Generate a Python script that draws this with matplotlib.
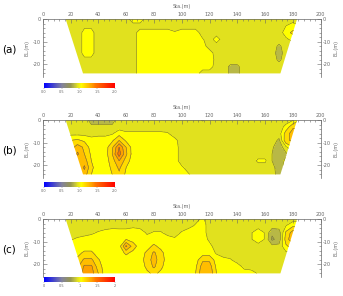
import numpy as np
import matplotlib
matplotlib.use("Agg")
import matplotlib.pyplot as plt
from matplotlib.colors import LinearSegmentedColormap, Normalize
from matplotlib.patches import Polygon
from matplotlib.cm import ScalarMappable
from matplotlib.ticker import MultipleLocator

plt.rcParams["font.family"] = ["DejaVu Sans"]
plt.rcParams["axes.unicode_minus"] = False

# grid of the section: station (m) and elevation (m)
sta = np.arange(15, 186, 5)
elev = np.array([0, -3, -6, -9, -12, -15, -18, -21, -24])

# survey outline (trapezoid)
outline_sta = [16.5, 183, 171, 29]
outline_el = [0, 0, -24, -24]

# ratio values x100, one row per elevation, one column per station
ratio_a = [
    [95, 95, 95, 95, 95, 95, 95, 95, 95, 95, 107, 107, 95, 95, 95, 95, 95, 95, 95, 95, 95, 95, 95, 95, 95, 95, 95, 95, 95, 95, 95, 95, 95, 97, 97],
    [95, 95, 95, 98, 98, 95, 95, 95, 95, 95, 95, 95, 95, 95, 95, 95, 95, 95, 95, 95, 95, 95, 95, 95, 95, 95, 95, 95, 95, 95, 95, 95, 100, 103, 100],
    [95, 95, 95, 103, 103, 95, 95, 95, 95, 95, 95, 105, 105, 105, 105, 105, 101, 105, 105, 105, 95, 95, 95, 95, 95, 95, 95, 95, 95, 95, 95, 95, 105, 113, 113],
    [95, 95, 95, 103, 103, 95, 95, 95, 95, 95, 95, 105, 105, 105, 105, 105, 105, 105, 105, 105, 101, 95, 105, 95, 95, 95, 95, 95, 95, 95, 95, 95, 98, 103, 100],
    [95, 95, 95, 103, 103, 95, 95, 95, 95, 95, 95, 105, 105, 105, 105, 105, 105, 105, 105, 105, 105, 95, 95, 95, 95, 95, 95, 95, 95, 95, 95, 88, 95, 95, 95],
    [95, 95, 95, 103, 103, 95, 95, 95, 95, 95, 95, 105, 105, 105, 105, 105, 105, 105, 105, 105, 105, 105, 95, 95, 95, 95, 95, 95, 95, 95, 95, 85, 95, 95, 95],
    [95, 95, 95, 98, 98, 95, 95, 95, 95, 95, 95, 105, 105, 105, 105, 105, 105, 105, 105, 105, 105, 105, 97, 95, 95, 95, 95, 95, 95, 95, 95, 88, 95, 95, 95],
    [95, 95, 95, 95, 95, 95, 95, 95, 95, 95, 95, 105, 105, 105, 105, 105, 105, 105, 105, 105, 105, 105, 95, 95, 88, 88, 95, 95, 95, 95, 95, 95, 95, 95, 95],
    [95, 95, 95, 95, 95, 95, 95, 95, 95, 95, 95, 105, 105, 105, 105, 105, 105, 105, 105, 105, 95, 95, 95, 95, 88, 88, 95, 95, 95, 95, 95, 95, 95, 95, 95],
]

ratio_b = [
    [95, 95, 95, 95, 86, 86, 86, 86, 95, 95, 95, 95, 95, 95, 95, 95, 95, 95, 95, 95, 89, 95, 95, 95, 95, 95, 95, 95, 95, 95, 95, 95, 95, 99, 110],
    [95, 95, 95, 95, 92, 92, 92, 92, 95, 95, 95, 95, 95, 95, 95, 95, 95, 95, 95, 95, 95, 95, 95, 95, 95, 95, 95, 95, 95, 95, 95, 95, 103, 118, 120],
    [95, 97, 97, 97, 97, 97, 97, 99, 106, 102, 102, 102, 102, 102, 102, 101, 95, 95, 95, 95, 95, 95, 95, 95, 95, 95, 95, 95, 95, 95, 95, 95, 115, 125, 125],
    [105, 110, 112, 108, 103, 105, 105, 108, 120, 108, 105, 105, 105, 105, 105, 105, 103, 95, 95, 95, 95, 95, 95, 95, 95, 95, 95, 95, 95, 95, 95, 88, 118, 122, 120],
    [108, 115, 125, 118, 105, 105, 105, 118, 140, 120, 105, 105, 105, 105, 105, 105, 105, 95, 95, 95, 95, 95, 95, 95, 95, 95, 95, 95, 95, 95, 92, 82, 98, 110, 105],
    [108, 115, 132, 120, 108, 105, 105, 120, 145, 122, 105, 105, 105, 105, 105, 105, 105, 95, 95, 95, 95, 95, 95, 95, 95, 95, 95, 95, 95, 95, 90, 80, 88, 95, 95],
    [105, 112, 120, 125, 110, 105, 105, 115, 130, 115, 105, 105, 105, 105, 105, 105, 105, 95, 95, 95, 95, 95, 95, 95, 95, 95, 95, 95, 102, 102, 90, 85, 92, 95, 95],
    [105, 110, 118, 132, 112, 105, 105, 112, 122, 110, 105, 105, 105, 105, 105, 105, 105, 102, 95, 95, 95, 95, 95, 95, 95, 95, 95, 95, 95, 95, 92, 87, 92, 95, 95],
    [105, 105, 115, 125, 110, 105, 105, 110, 118, 108, 105, 105, 105, 105, 105, 105, 105, 105, 101, 95, 95, 95, 95, 95, 95, 95, 95, 95, 95, 95, 92, 88, 92, 95, 95],
]

ratio_c = [
    [95, 95, 95, 95, 95, 95, 95, 95, 95, 101, 95, 95, 95, 95, 95, 95, 95, 95, 95, 95, 103, 95, 95, 95, 95, 95, 95, 95, 95, 95, 95, 95, 95, 95, 95],
    [95, 95, 95, 95, 95, 95, 95, 95, 95, 95, 98, 95, 95, 95, 95, 95, 95, 95, 95, 102, 105, 95, 95, 95, 95, 95, 95, 95, 95, 95, 95, 95, 100, 108, 110],
    [95, 95, 95, 95, 98, 101, 104, 107, 106, 106, 105, 107, 98, 101, 101, 96, 95, 101, 108, 105, 105, 95, 95, 95, 95, 95, 95, 99, 107, 99, 82, 85, 112, 125, 125],
    [99, 99, 102, 105, 105, 105, 105, 105, 105, 110, 106, 105, 105, 105, 105, 105, 102, 105, 105, 105, 105, 98, 95, 95, 95, 95, 95, 99, 107, 99, 78, 84, 115, 128, 125],
    [105, 105, 105, 105, 105, 105, 105, 105, 105, 132, 115, 105, 106, 112, 107, 105, 105, 105, 105, 105, 105, 103, 95, 95, 95, 95, 95, 95, 95, 95, 93, 93, 108, 115, 115],
    [105, 105, 107, 112, 112, 105, 105, 105, 105, 112, 107, 105, 112, 122, 113, 105, 105, 105, 105, 105, 105, 105, 99, 95, 95, 95, 95, 95, 95, 95, 95, 95, 98, 97, 97],
    [105, 108, 112, 122, 122, 111, 105, 105, 105, 105, 105, 105, 115, 124, 115, 105, 105, 105, 105, 105, 118, 118, 105, 103, 101, 95, 95, 95, 95, 95, 95, 95, 95, 95, 95],
    [105, 110, 118, 132, 132, 115, 105, 105, 105, 105, 105, 105, 112, 122, 112, 105, 105, 105, 105, 108, 125, 125, 108, 105, 105, 105, 97, 95, 95, 95, 95, 95, 95, 95, 95],
    [105, 112, 120, 135, 135, 120, 105, 105, 105, 105, 105, 105, 108, 112, 108, 105, 105, 105, 105, 110, 128, 128, 110, 105, 105, 105, 105, 105, 99, 95, 95, 95, 95, 95, 95],
]

panel_tags = ["(a)", "(b)", "(c)"]
cbar_ticks = [0, 0.5, 1, 1.5, 2]
cbar_labels = ["0", "0.5", "1", "1.5", "2"]

cmap = LinearSegmentedColormap.from_list("ratio", [
    (0.0, "#0000ff"), (0.25, "#8282a0"), (0.375, "#969650"), (0.425, "#b9b946"),
    (0.475, "#e1e11e"), (0.525, "#ffff00"), (0.575, "#ffdc00"), (0.625, "#ffbe00"),
    (0.675, "#ffa000"), (0.725, "#ff7800"), (1.0, "#ff0000"),
])
norm = Normalize(vmin=0, vmax=2)
levels = np.round(np.arange(0, 2.01, 0.1), 2)

GREY = "#666666"


def draw_panel(ax, cax, ratio, tag):
    """Filled contour section clipped to the survey outline, plus its colour bar."""
    z = np.array(ratio) / 100.0
    X, Y = np.meshgrid(sta, elev)
    outline = Polygon(np.column_stack([outline_sta, outline_el]), closed=True,
                      facecolor="none", edgecolor="none")
    ax.add_patch(outline)
    cf = ax.contourf(X, Y, z, levels=levels, cmap=cmap, norm=norm)
    cf.set_clip_path(outline)
    cl = ax.contour(X, Y, z, levels=levels, colors="#6e6a3c", linewidths=0.4)
    cl.set_clip_path(outline)

    ax.set_xlim(0, 200)
    ax.set_ylim(-25.5, 0)
    ax.xaxis.tick_top()
    ax.xaxis.set_label_position("top")
    ax.set_xticks(np.arange(0, 201, 20))
    ax.xaxis.set_minor_locator(MultipleLocator(4))
    ax.set_yticks([0, -10, -20])
    ax.yaxis.set_minor_locator(MultipleLocator(2))
    ax.spines["bottom"].set_visible(False)
    for s in ("top", "left", "right"):
        ax.spines[s].set_color(GREY)
        ax.spines[s].set_linewidth(0.5)
    ax.tick_params(which="both", direction="in", colors=GREY, labelsize=3.5,
                   width=0.4, pad=1.5, right=True, labelright=True)
    ax.tick_params(which="major", length=3)
    ax.tick_params(which="minor", length=1.5)
    ax.set_xlabel("Sta.(m)", fontsize=3.5, color=GREY, labelpad=3)
    ax.set_ylabel("EL.(m)", fontsize=3.5, color=GREY, labelpad=2)
    ax.text(1.055, 0.5, "EL.(m)", transform=ax.transAxes, rotation=90,
            fontsize=3.5, color=GREY, ha="center", va="center")
    ax.text(-0.12, 0.47, tag, transform=ax.transAxes, fontsize=7.5,
            ha="center", va="center")

    sm = ScalarMappable(norm=norm, cmap=cmap)
    cb = plt.colorbar(sm, cax=cax, orientation="horizontal")
    cb.set_ticks(cbar_ticks, labels=cbar_labels)
    cb.outline.set_visible(False)
    cb.ax.tick_params(labelsize=2.5, colors=GREY, length=1, width=0.3, pad=0.5)


fig = plt.figure(figsize=(3.43, 2.96), dpi=100)
panel_bottoms = [0.7405, 0.3993, 0.0649]
cbar_bottoms = [0.7027, 0.368, 0.047]
ratios = [ratio_a, ratio_b, ratio_c]
for ratio, tag, pb, cbb in zip(ratios, panel_tags, panel_bottoms, cbar_bottoms):
    ax = fig.add_axes([0.1245, pb, 0.8105, 0.1953])
    cax = fig.add_axes([0.128, cbb, 0.207, 0.0169])
    draw_panel(ax, cax, ratio, tag)

fig.savefig("out.png", dpi=100)
